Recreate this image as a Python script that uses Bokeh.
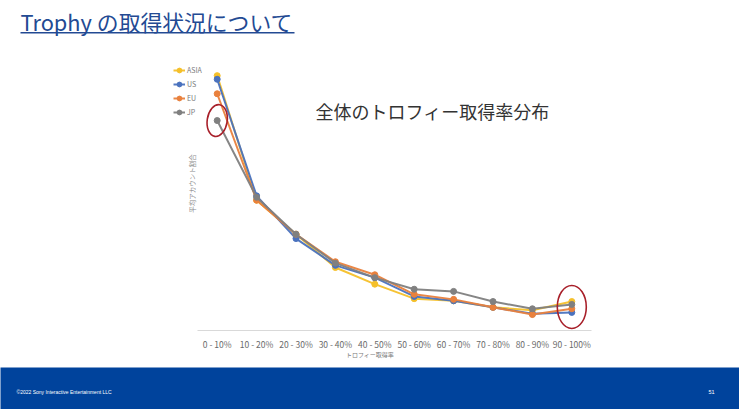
import math
from bokeh.plotting import figure
from bokeh.layouts import column
from bokeh.models import (Range1d, Label, BoxAnnotation, Legend, LegendItem,
                          ColumnDataSource, FixedTicker)
from bokeh.embed import file_html
from bokeh.resources import INLINE

# ---------------- data ----------------
categories = ["0 - 10%", "10 - 20%", "20 - 30%", "30 - 40%", "40 - 50%",
              "50 - 60%", "60 - 70%", "70 - 80%", "80 - 90%", "90 - 100%"]
asia = [35.2, 18.0, 13.3, 8.7, 6.4, 4.4, 4.1, 3.2, 2.8, 4.0]
us = [34.7, 18.6, 12.7, 9.0, 7.3, 4.7, 4.1, 3.2, 2.3, 2.5]
eu = [32.7, 18.0, 13.3, 9.5, 7.7, 5.0, 4.3, 3.2, 2.2, 3.0]
jp = [29.0, 18.4, 13.3, 9.3, 7.3, 5.7, 5.4, 4.0, 3.0, 3.6]
series_names = ["ASIA", "US", "EU", "JP"]
series_colors = ["#F5C02A", "#4A72BE", "#E9813D", "#808080"]

slide_title = "Trophy の取得状況について"
chart_title = "全体のトロフィー取得率分布"
x_title = "トロフィー取得率"
y_title = "平均アカウント割合"
footer_text = "©2022 Sony Interactive Entertainment LLC"
page_number = "51"

JP_FONT = "Noto Sans CJK JP"

W = 739
H_TOP = 367
H_FOOT = 409 - H_TOP

# ---------------- chart (upper part of slide) ----------------
FB = 330            # pixel row of the x-axis line
PX0, PXSTEP = 216.7, 39.4   # pixel column of first category and step
idx = list(range(len(categories)))
x_start = -PX0 / PXSTEP
x_end = (W - PX0) / PXSTEP
px_per_pct = 7.24
y_end = FB / px_per_pct

p = figure(width=W, height=H_TOP, output_backend="svg", toolbar_location=None,
           x_range=Range1d(x_start, x_end), y_range=Range1d(0, y_end),
           min_border_left=0, min_border_right=0, min_border_top=0,
           min_border_bottom=H_TOP - FB)
p.outline_line_color = None
p.background_fill_color = "white"
p.border_fill_color = "white"
p.xgrid.visible = False
p.ygrid.visible = False
p.yaxis.visible = False

ax = p.xaxis[0]
ax.ticker = FixedTicker(ticks=idx)
ax.major_label_overrides = {i: c for i, c in zip(idx, categories)}
ax.bounds = (-0.5, len(categories) - 0.5)
ax.axis_line_color = "#D9D9D9"
ax.axis_line_width = 1
ax.major_tick_line_color = None
ax.minor_tick_line_color = None
ax.major_tick_out = 0
ax.major_tick_in = 0
ax.minor_tick_out = 0
ax.minor_tick_in = 0
ax.major_label_standoff = 7
ax.major_label_text_font = JP_FONT
ax.major_label_text_font_size = "8.5px"
ax.major_label_text_color = "#6a6a6a"
ax.axis_label = x_title
ax.axis_label_text_font = JP_FONT
ax.axis_label_text_font_style = "normal"
ax.axis_label_text_font_size = "6px"
ax.axis_label_text_color = "#7a7a7a"
ax.axis_label_standoff = -3


def sx(px):
    return px


def sy(py):
    return FB - py


items = []
for name, vals, col in zip(series_names, [asia, us, eu, jp], series_colors):
    src = ColumnDataSource(dict(x=idx, y=vals))
    r1 = p.line("x", "y", source=src, line_color=col, line_width=2, line_alpha=0.95)
    r2 = p.scatter("x", "y", source=src, size=6, fill_color=col, line_color=col)
    items.append(LegendItem(label=name, renderers=[r1, r2]))

legend = Legend(items=items, location=(sx(173), sy(118)),
                label_text_font=JP_FONT, label_text_font_size="7px",
                label_text_color="#7a7a7a", glyph_width=12, glyph_height=12,
                label_height=12, spacing=2, padding=0, margin=0,
                label_standoff=2, border_line_color=None,
                background_fill_alpha=0)
p.add_layout(legend, "center")

# red hand-drawn circles around 0-10% JP and the 90-100% end points
p.ellipse(x=[idx[0]], y=[jp[0]], width=20, height=32,
          width_units="screen", height_units="screen", angle=-0.15,
          fill_alpha=0, line_color="#A8202A", line_width=1.6)
p.ellipse(x=[idx[-1]], y=[(asia[-1] + us[-1]) / 2], width=29, height=43,
          width_units="screen", height_units="screen",
          fill_alpha=0, line_color="#A8202A", line_width=1.6)

p.add_layout(Label(x=sx(432), y=sy(110), x_units="screen", y_units="screen",
                   text=chart_title, text_font=JP_FONT, text_font_size="18px",
                   text_color="#333333", text_align="center", text_baseline="middle"))
p.add_layout(Label(x=sx(191), y=sy(183), x_units="screen", y_units="screen",
                   text=y_title, angle=math.pi / 2, text_font=JP_FONT,
                   text_font_size="6.5px", text_color="#8a8a8a",
                   text_align="center", text_baseline="middle"))
p.add_layout(Label(x=sx(20), y=sy(21), x_units="screen", y_units="screen",
                   text=slide_title, text_font=JP_FONT, text_font_size="21.8px",
                   text_color="#234A93", text_align="left", text_baseline="middle"))
p.add_layout(BoxAnnotation(left=sx(20), right=sx(294), top=sy(31.5), bottom=sy(33),
                           left_units="screen", right_units="screen",
                           top_units="screen", bottom_units="screen",
                           fill_color="#234A93", fill_alpha=1, line_color=None))

# ---------------- footer band ----------------
f = figure(width=W, height=H_FOOT, output_backend="svg", toolbar_location=None,
           x_range=Range1d(0, W), y_range=Range1d(H_FOOT, 0),
           min_border_left=0, min_border_right=0, min_border_top=0, min_border_bottom=0)
f.xaxis.visible = False
f.yaxis.visible = False
f.xgrid.visible = False
f.ygrid.visible = False
f.outline_line_color = None
f.background_fill_color = "#00439C"
f.border_fill_color = "#00439C"
f.add_layout(Label(x=16, y=391 - H_TOP, text=footer_text,
                   text_font="Liberation Sans", text_font_size="5px",
                   text_color="white", text_align="left", text_baseline="middle"))
f.add_layout(Label(x=711, y=391 - H_TOP, text=page_number,
                   text_font="Liberation Sans", text_font_size="5.5px",
                   text_color="white", text_align="center", text_baseline="middle"))

layout = column(p, f, spacing=0)
open("out.html", "w").write(file_html(layout, INLINE))
